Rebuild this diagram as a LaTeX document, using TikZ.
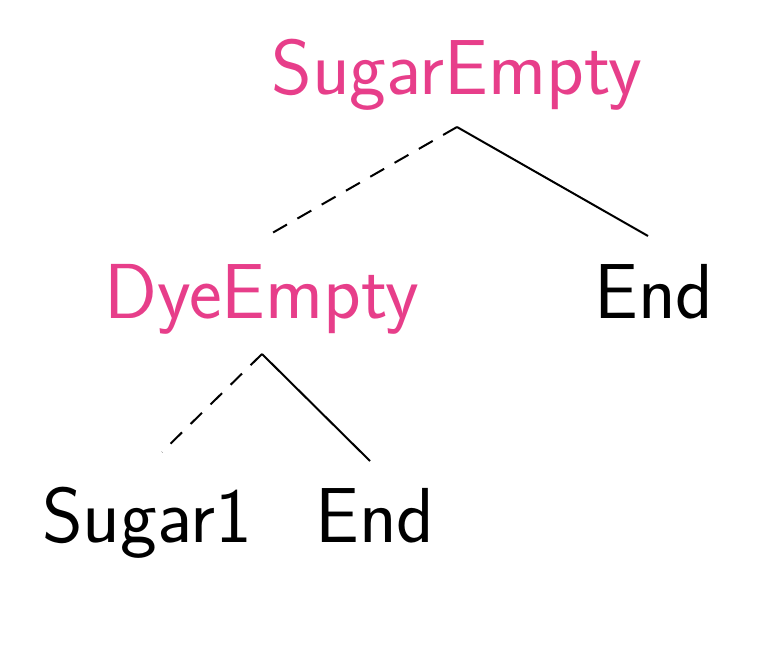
\documentclass[tikz,border=0pt]{standalone}
\usepackage{tikz}
\usetikzlibrary{calc}
\definecolor{treepink}{RGB}{231,62,138}
\tikzset{
  lbl/.style={font=\sffamily\fontsize{39}{44}\selectfont, inner sep=0pt, anchor=base},
  var/.style={lbl, text=treepink},
  lo/.style={line width=1pt, dash pattern=on 8pt off 6pt},
  hi/.style={line width=1pt}
}
\begin{document}
\begin{tikzpicture}[x=0.5pt, y=-0.5pt]
  \useasboundingbox (0,0) rectangle (771,647);

  % Nodes
  \node[var] (se) at (457,95) {SugarEmpty};
  \node[var] (de) at (262,318) {DyeEmpty};
  \node[lbl] (e1) at (654,318) {End};
  \node[lbl] (s1) at (147,542) {Sugar1};
  \node[lbl] (e2) at (375,542) {End};

  % Edges
  \draw[lo] ($(se.base)+(0,-16pt)$) -- ($(de.base)+(2.5pt,41pt)$);
  \draw[hi] ($(se.base)+(0,-16pt)$) -- ($(e1.base)+(-3pt,41pt)$);
  \draw[lo] ($(de.base)+(0,-18pt)$) -- ($(s1.base)+(7.5pt,45pt)$);
  \draw[hi] ($(de.base)+(0,-18pt)$) -- ($(e2.base)+(-2.5pt,40.5pt)$);
\end{tikzpicture}
\end{document}
